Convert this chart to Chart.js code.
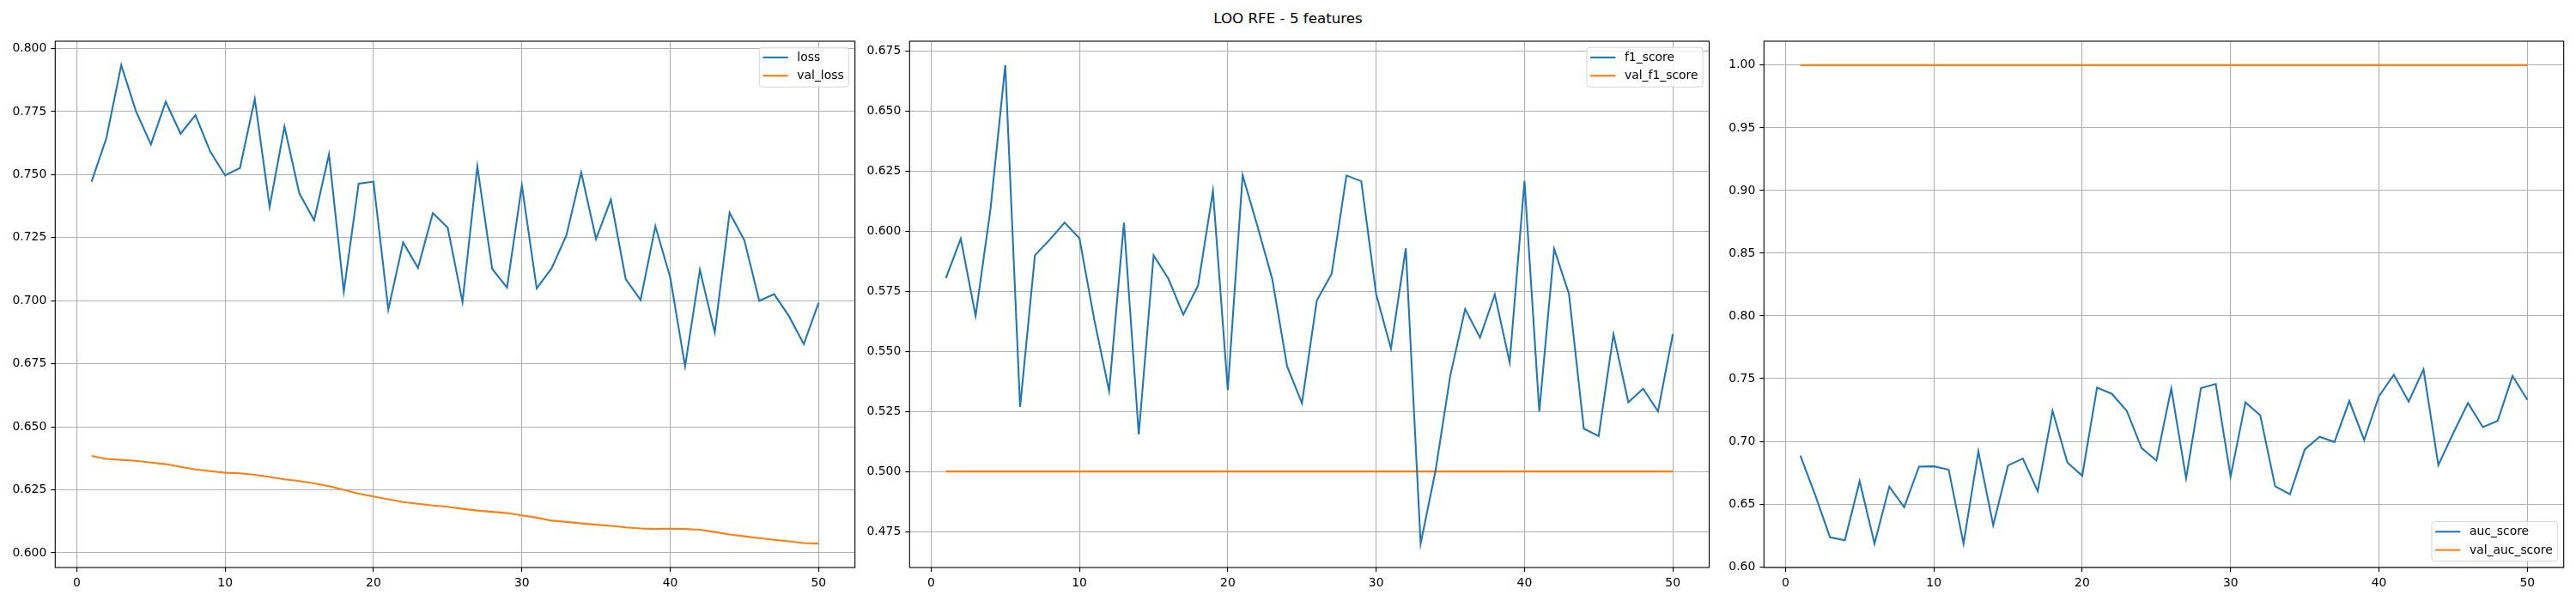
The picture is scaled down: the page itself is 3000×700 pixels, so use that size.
<!DOCTYPE html>
<html>
<head>
<meta charset="utf-8">
<script src="https://cdn.jsdelivr.net/npm/chart.js@4.4.1/dist/chart.umd.min.js"></script>
<style>
  html, body { margin: 0; padding: 0; background: #fff; }
  body { width: 3000px; height: 700px; position: relative; overflow: hidden; font-family: "DejaVu Sans", sans-serif; }
  #title { position: absolute; left: 0; top: 11px; width: 3000px; text-align: center; font-size: 16.7px; line-height: 20px; color: #000; }
  .panel { position: absolute; top: 0; height: 700px; }
</style>
</head>
<body>
<div id="title">LOO RFE - 5 features</div>
<div class="panel" style="left:0px;width:1000px"><canvas id="c1"></canvas></div>
<div class="panel" style="left:995px;width:1000px"><canvas id="c2"></canvas></div>
<div class="panel" style="left:1990px;width:1010px"><canvas id="c3"></canvas></div>
<script>
// epochs (x axis)
const epochs = [1,2,3,4,5,6,7,8,9,10,11,12,13,14,15,16,17,18,19,20,
                21,22,23,24,25,26,27,28,29,30,31,32,33,34,35,36,37,38,39,40,
                41,42,43,44,45,46,47,48,49,50];

// ---- panel 1 : loss
const loss = [0.7472,0.7645,0.7934,0.7750,0.7620,0.7789,0.7662,0.7736,0.7591,0.7497,
              0.7526,0.7800,0.7372,0.7690,0.7426,0.7319,0.7580,0.7037,0.7464,0.7472,
              0.6965,0.7231,0.7130,0.7347,0.7290,0.6995,0.7532,0.7126,0.7052,0.7457,
              0.7049,0.7128,0.7259,0.7508,0.7245,0.7401,0.7086,0.7003,0.7295,0.7092,
              0.6740,0.7122,0.6874,0.7349,0.7239,0.6999,0.7026,0.6939,0.6828,0.6992];
const valLoss = [0.6385,0.6373,0.6369,0.6365,0.6358,0.6352,0.6341,0.6331,0.6324,0.6318,
                 0.6316,0.6310,0.6301,0.6292,0.6285,0.6276,0.6265,0.6250,0.6235,0.6224,
                 0.6213,0.6202,0.6195,0.6188,0.6183,0.6175,0.6168,0.6163,0.6158,0.6149,
                 0.6140,0.6128,0.6123,0.6117,0.6112,0.6107,0.6101,0.6097,0.6095,0.6096,
                 0.6095,0.6092,0.6083,0.6073,0.6066,0.6059,0.6052,0.6046,0.6039,0.6037];

// ---- panel 2 : f1
const f1Score = [0.5804,0.5968,0.5647,0.6089,0.6690,0.5268,0.5899,0.5964,0.6035,0.5970,
                 0.5631,0.5335,0.6035,0.5154,0.5899,0.5801,0.5652,0.5774,0.6167,0.5339,
                 0.6232,0.6020,0.5800,0.5437,0.5284,0.5711,0.5822,0.6231,0.6207,0.5738,
                 0.5511,0.5928,0.4700,0.5002,0.5399,0.5675,0.5557,0.5736,0.5454,0.6208,
                 0.5250,0.5926,0.5738,0.5178,0.5147,0.5571,0.5288,0.5344,0.5250,0.5571];
const valF1Score = [0.5,0.5,0.5,0.5,0.5,0.5,0.5,0.5,0.5,0.5,
                    0.5,0.5,0.5,0.5,0.5,0.5,0.5,0.5,0.5,0.5,
                    0.5,0.5,0.5,0.5,0.5,0.5,0.5,0.5,0.5,0.5,
                    0.5,0.5,0.5,0.5,0.5,0.5,0.5,0.5,0.5,0.5,
                    0.5,0.5,0.5,0.5,0.5,0.5,0.5,0.5,0.5,0.5];

// ---- panel 3 : auc
const aucScore = [0.6886,0.6573,0.6235,0.6212,0.6683,0.6185,0.6639,0.6475,0.6799,0.6801,
                  0.6774,0.6185,0.6920,0.6331,0.6808,0.6863,0.6603,0.7244,0.6831,0.6726,
                  0.7429,0.7379,0.7244,0.6947,0.6847,0.7422,0.6705,0.7425,0.7457,0.6719,
                  0.7311,0.7208,0.6642,0.6578,0.6936,0.7037,0.6995,0.7322,0.7011,0.7361,
                  0.7532,0.7317,0.7573,0.6811,0.7064,0.7306,0.7114,0.7164,0.7521,0.7331];
const valAucScore = [1,1,1,1,1,1,1,1,1,1,
                     1,1,1,1,1,1,1,1,1,1,
                     1,1,1,1,1,1,1,1,1,1,
                     1,1,1,1,1,1,1,1,1,1,
                     1,1,1,1,1,1,1,1,1,1];

const xTicks = [0, 10, 20, 30, 40, 50];

const BLUE = "#1f77b4";
const ORANGE = "#ff7f0e";
const FONT = '"DejaVu Sans"';
const FS = 13.9;

Chart.defaults.font.family = FONT;
Chart.defaults.font.size = FS;
Chart.defaults.color = "#000";

/* frame round the plot area (matplotlib spines) */
const spines = {
    id: "spines",
    afterDatasetsDraw(chart) {
        const a = chart.chartArea, ctx = chart.ctx;
        ctx.save();
        ctx.strokeStyle = "#000";
        ctx.lineWidth = 1.1;
        ctx.strokeRect(a.left, a.top, a.right - a.left, a.bottom - a.top);
        ctx.restore();
    }
};

/* legend drawn inside the axes, like plt.legend() */
const insideLegend = {
    id: "insideLegend",
    afterDatasetsDraw(chart, args, opts) {
        const ctx = chart.ctx, a = chart.chartArea;
        ctx.save();
        ctx.font = FS + "px " + FONT;
        const sets = chart.data.datasets;
        const tw = Math.max(...sets.map(d => ctx.measureText(d.label).width));
        const w = 44 + tw + 5.6;
        const h = 46;
        const x = a.right - 7.4 - w;
        const y = opts.where === "lower" ? a.bottom - 7.4 - h : a.top + 7.2;

        ctx.beginPath();
        ctx.roundRect(x, y, w, h, 3);
        ctx.fillStyle = "rgba(255,255,255,0.8)";
        ctx.fill();
        ctx.strokeStyle = "#d5d5d5";
        ctx.lineWidth = 1;
        ctx.stroke();

        sets.forEach((d, i) => {
            const cy = y + 11.7 + i * 21.3;
            ctx.beginPath();
            ctx.moveTo(x + 4.2, cy);
            ctx.lineTo(x + 33.4, cy);
            ctx.strokeStyle = d.borderColor;
            ctx.lineWidth = 2.08;
            ctx.stroke();
            ctx.fillStyle = "#000";
            ctx.textBaseline = "middle";
            ctx.textAlign = "left";
            ctx.fillText(d.label, x + 44, cy + 0.5);
        });
        ctx.restore();
    }
};

function pts(values) {
    return epochs.map((e, i) => ({ x: e, y: values[i] }));
}

function makePanel(id, names, trainVals, valVals, step, decimals, where, rightPad) {
    const all = trainVals.concat(valVals);
    const lo = Math.min(...all), hi = Math.max(...all);
    const m = (hi - lo) * 0.05;
    const xm = (epochs[epochs.length - 1] - epochs[0]) * 0.05;

    new Chart(document.getElementById(id), {
        type: "line",
        data: {
            datasets: [
                { label: names[0], data: pts(trainVals), borderColor: BLUE, backgroundColor: BLUE,
                  borderWidth: 2.08, pointRadius: 0, tension: 0, fill: false },
                { label: names[1], data: pts(valVals), borderColor: ORANGE, backgroundColor: ORANGE,
                  borderWidth: 2.08, pointRadius: 0, tension: 0, fill: false }
            ]
        },
        options: {
            responsive: true,
            maintainAspectRatio: false,
            animation: false,
            events: [],
            layout: { padding: { top: 48, right: rightPad, left: 0, bottom: 0 } },
            plugins: {
                legend: { display: false },
                tooltip: { enabled: false },
                insideLegend: { where }
            },
            scales: {
                x: {
                    type: "linear",
                    min: epochs[0] - xm,
                    max: epochs[epochs.length - 1] + xm,
                    afterBuildTicks: s => { s.ticks = xTicks.map(v => ({ value: v })); },
                    ticks: { callback: v => String(v), padding: 5, maxRotation: 0 },
                    grid: { color: "#b0b0b0", lineWidth: 1.1, tickColor: "#000", tickWidth: 1.1, tickLength: 5 },
                    border: { display: false },
                    afterFit: s => { s.height = 39; }
                },
                y: {
                    min: lo - m,
                    max: hi + m,
                    ticks: { stepSize: step, includeBounds: false, padding: 5,
                             callback: v => Number(v).toFixed(decimals) },
                    grid: { color: "#b0b0b0", lineWidth: 1.1, tickColor: "#000", tickWidth: 1.1, tickLength: 5 },
                    border: { display: false },
                    afterFit: s => { s.width = 64.3; }
                }
            }
        },
        plugins: [spines, insideLegend]
    });
}

makePanel("c1", ["loss", "val_loss"], loss, valLoss, 0.025, 3, "upper", 4.3);
makePanel("c2", ["f1_score", "val_f1_score"], f1Score, valF1Score, 0.025, 3, "upper", 4.5);
makePanel("c3", ["auc_score", "val_auc_score"], aucScore, valAucScore, 0.05, 2, "lower", 14.3);
</script>
</body>
</html>
